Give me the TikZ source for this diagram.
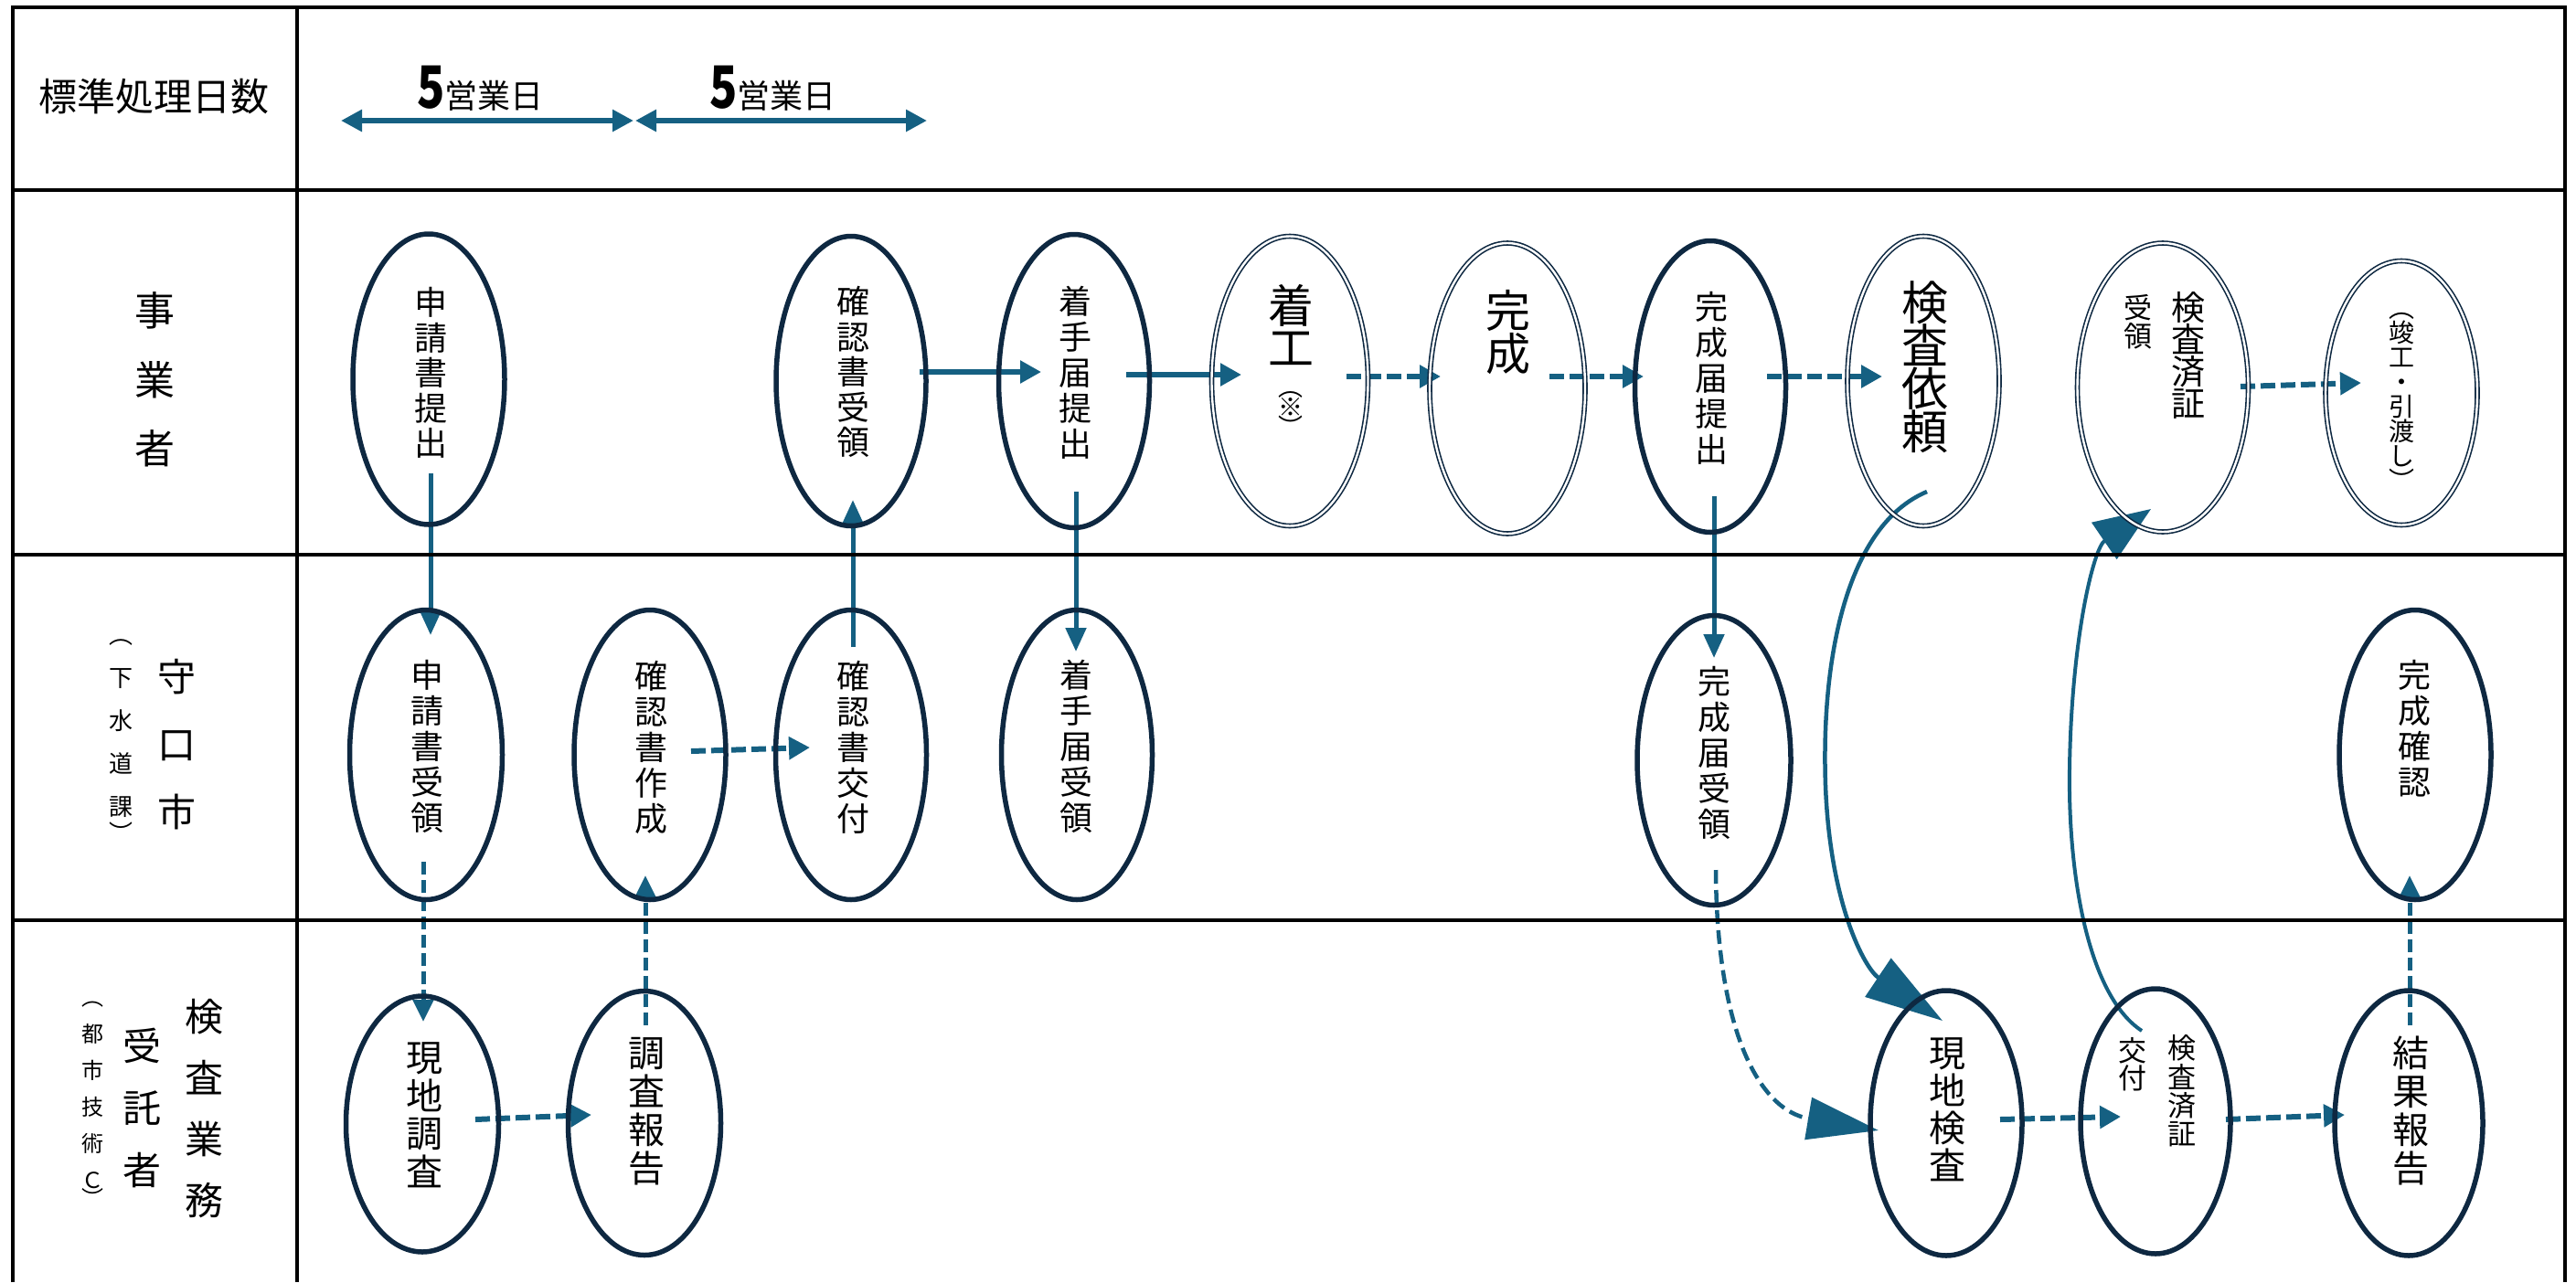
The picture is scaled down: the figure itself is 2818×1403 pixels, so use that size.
\documentclass[tikz,border=0pt]{standalone}
\usepackage{fontspec}
\setmainfont{Noto Sans CJK JP}
\usetikzlibrary{arrows.meta,shapes.geometric,calc}
\definecolor{navy}{HTML}{0E2841}
\definecolor{arrc}{HTML}{156082}
\newcommand\cjs{\vrule height .88em depth .12em width 0pt}
\newcommand\nolsl{\lineskiplimit -100pt\relax}
\pgfdeclarelayer{bg}
\pgfsetlayers{bg,main}
\tikzset{
  ell/.style={ellipse, draw=navy, line width=5.5pt, inner sep=0pt, outer sep=0pt},
  ellb/.style={ellipse, draw=navy, line width=1.6pt, double=white, double distance=2.4pt, inner sep=0pt, outer sep=0pt},
  vt/.style 2 args={align=center, inner sep=0pt, outer sep=0pt, font={\fontsize{#1}{#2}\selectfont\nolsl}},
  frame/.style={line width=4.5pt, black},
  hs/.style={draw=arrc, line width=5.5pt, -{Triangle[length=23pt,width=24pt]}},
  hd/.style={draw=arrc, line width=6pt, dash pattern=on 16pt off 6pt, -{Triangle[length=23pt,width=24pt]}},
  vs/.style={draw=arrc, line width=5pt, -{Triangle[length=26pt,width=22pt]}},
  vd/.style={draw=arrc, line width=5pt, dash pattern=on 14pt off 6pt, -{Triangle[length=24pt,width=22pt]}},
  dbl/.style={draw=arrc, line width=6pt, {Triangle[length=23pt,width=23pt]}-{Triangle[length=23pt,width=23pt]}},
  daylab/.style={anchor=base west, inner sep=0pt},
}
\newcommand\fiveday{\scalebox{0.78}[1]{\fontsize{64}{66}\selectfont\bfseries 5}{\fontsize{36}{40}\selectfont 営業日}}
\begin{document}
\begin{tikzpicture}[x=1pt,y=-1pt]
\useasboundingbox (0,0) rectangle (2818,1403);
% frame
\draw[frame] (14,1403) -- (14,8) -- (2806,8) -- (2806,1403);
\draw[frame] (14,208) -- (2806,208);
\draw[frame] (14,607) -- (2806,607);
\draw[frame] (14,1007) -- (2806,1007);
\draw[line width=3.5pt] (325,8) -- (325,1403);

% lane headers
\node[vt={42}{48}] (h0) at (168,106) {\cjs{}標準処理日数\cjs};
\node[vt={44}{75.5}] (h1) at (169,415.5) {\cjs{}事\\業\\者\cjs};
\node[vt={42}{74}] (h2) at (193,815) {\cjs{}守\\口\\市\cjs};
\node[vt={26}{47}] (h3) at (132,803) {\cjs{}︵\\下\\水\\道\\課\\[-18pt]︶\cjs};
\node[vt={42}{67.3}] (h4) at (223,1213) {\cjs{}検\\査\\業\\務\cjs};
\node[vt={42}{68}] (h5) at (155,1213) {\cjs{}受\\託\\者\cjs};
\node[vt={24}{40}] (h6) at (101,1201) {\cjs{}︵\\都\\市\\技\\術\\Ｃ\\[-20pt]︶\cjs};

% top labels
\node[daylab] (l1) at (456,118) {\fiveday};
\node[daylab] (l2) at (776,118) {\fiveday};
\coordinate (d0) at (373,132);
\coordinate (d1) at (693,132);
\coordinate (d2) at (695,132);
\coordinate (d3) at (1014,132);
\draw[dbl] (d0) -- (d1);
\draw[dbl] (d2) -- (d3);

% ellipses row 1
\node[ell, minimum width=166pt, minimum height=318pt] (a1) at (469,415) {};
\node[ell, minimum width=164pt, minimum height=317pt] (a2) at (931,417) {};
\node[ell, minimum width=165pt, minimum height=321pt] (a3) at (1175,417) {};
\node[ellb, minimum width=171pt, minimum height=317pt] (a4) at (1411,417) {};
\node[ellb, minimum width=170pt, minimum height=318pt] (a5) at (1649,425) {};
\node[ell, minimum width=165pt, minimum height=319pt] (a6) at (1871,423) {};
\node[ellb, minimum width=166pt, minimum height=317pt] (a7) at (2104,417) {};
\node[ellb, minimum width=187pt, minimum height=316pt] (a8) at (2366,424) {};
\node[ellb, minimum width=166pt, minimum height=289pt] (a9) at (2627,430) {};
% row 2
\node[ell, minimum width=167pt, minimum height=317pt] (b1) at (466,826) {};
\node[ell, minimum width=166pt, minimum height=317pt] (b2) at (711,826) {};
\node[ell, minimum width=165pt, minimum height=317pt] (b3) at (931,826) {};
\node[ell, minimum width=165pt, minimum height=317pt] (b4) at (1178,826) {};
\node[ell, minimum width=168pt, minimum height=317pt] (b5) at (1875,832) {};
\node[ell, minimum width=166pt, minimum height=317pt] (b6) at (2642,826) {};
% row 3
\node[ell, minimum width=167pt, minimum height=280pt] (c1) at (462,1230) {};
\node[ell, minimum width=167pt, minimum height=289pt] (c2) at (705,1229) {};
\node[ell, minimum width=166pt, minimum height=290pt] (c3) at (2129,1229) {};
\node[ell, minimum width=164pt, minimum height=290pt] (c4) at (2358,1227) {};
\node[ell, minimum width=162pt, minimum height=290pt] (c5) at (2635,1229) {};

% texts row 1
\node[vt={36}{38.5}] (ta1) at (471,408) {\cjs{}申\\請\\書\\提\\出\cjs};
\node[vt={36}{38.5}] (ta2) at (933,407) {\cjs{}確\\認\\書\\受\\領\cjs};
\node[vt={36}{39}] (ta3) at (1176,408) {\cjs{}着\\手\\届\\提\\出\cjs};
\node[vt={50}{46}] (ta4) at (1412,357) {\cjs{}着\\工\cjs};
\node[vt={27}{22}] (ta4n) at (1412,445) {\cjs{}︵\\※\\︶\cjs};
\node[vt={49}{47}] (ta5) at (1650,363) {\cjs{}完\\成\cjs};
\node[vt={36}{39}] (ta6) at (1872,414) {\cjs{}完\\成\\届\\提\\出\cjs};
\node[vt={51}{47}] (ta7) at (2106,402) {\cjs{}検\\査\\依\\頼\cjs};
\node[vt={37}{35}] (ta8r) at (2394,389) {\cjs{}検\\査\\済\\証\cjs};
\node[vt={31}{31}] (ta8l) at (2339,352) {\cjs{}受\\領\cjs};
\node[vt={28}{27}] (ta9) at (2627,431) {\cjs{}︵\\竣\\工\\・\\引\\渡\\し\\︶\cjs};
% texts row 2
\node[vt={36}{39}] (tb1) at (467,817) {\cjs{}申\\請\\書\\受\\領\cjs};
\node[vt={36}{39}] (tb2) at (712,818) {\cjs{}確\\認\\書\\作\\成\cjs};
\node[vt={36}{39}] (tb3) at (933,818) {\cjs{}確\\認\\書\\交\\付\cjs};
\node[vt={36}{39}] (tb4) at (1177,817) {\cjs{}着\\手\\届\\受\\領\cjs};
\node[vt={36}{39}] (tb5) at (1875,824) {\cjs{}完\\成\\届\\受\\領\cjs};
\node[vt={36}{39}] (tb6) at (2641,797) {\cjs{}完\\成\\確\\認\cjs};
% texts row 3
\node[vt={40}{41.5}] (tc1) at (464,1220) {\cjs{}現\\地\\調\\査\cjs};
\node[vt={40}{42}] (tc2) at (707,1215) {\cjs{}調\\査\\報\\告\cjs};
\node[vt={40}{41}] (tc3) at (2130,1214) {\cjs{}現\\地\\検\\査\cjs};
\node[vt={31}{31.3}] (tc4r) at (2387,1194) {\cjs{}検\\査\\済\\証\cjs};
\node[vt={31}{30}] (tc4l) at (2333,1165) {\cjs{}交\\付\cjs};
\node[vt={40}{42}] (tc5) at (2637,1215) {\cjs{}結\\果\\報\\告\cjs};

\begin{pgfonlayer}{bg}
% horizontal
\draw[hs] ($(a2.center)+(75,-10)$) -- ($(a3.center)+(-36,-10)$);
\draw[hs] ($(a3.center)+(57,-7)$) -- ($(a4.center)+(-53,-7)$);
\draw[hd] ($(a4.center)+(62,-5)$) -- ($(a5.center)+(-73,-13)$);
\draw[hd] ($(a5.center)+(46,-13)$) -- ($(a6.center)+(-73,-11)$);
\draw[hd] ($(a6.center)+(62,-11)$) -- ($(a7.center)+(-45,-5)$);
\draw[hd] ($(a8.center)+(85,-1)$) -- ($(a9.center)+(-44,-11)$);
\draw[hd] ($(b2.center)+(45,-4)$) -- ($(b3.center)+(-45,-8)$);
\draw[hd] ($(c1.center)+(58,-5)$) -- ($(c2.center)+(-58,-9)$);
\draw[hd] ($(c3.center)+(59,-4)$) -- ($(c4.center)+(-38,-5)$);
\draw[hd] ($(c4.center)+(77,-2)$) -- ($(c5.center)+(-70,-9)$);
% vertical
\draw[vs] ($(a1.center)+(2,103)$) -- ($(b1.center)+(5,-131)$);
\draw[vs] ($(b3.center)+(2,-118)$) -- ($(a2.center)+(2,130)$);
\draw[vs] ($(a3.center)+(2,121)$) -- ($(b4.center)+(-1,-113)$);
\draw[vs] ($(a6.center)+(4,120)$) -- ($(b5.center)+(0,-112)$);
\draw[vd] ($(b1.center)+(-3,117)$) -- ($(c1.center)+(1,-112)$);
\draw[vd] ($(c2.center)+(1,-107)$) -- ($(b2.center)+(-5,132)$);
\draw[vd] ($(c5.center)+(1,-107)$) -- ($(b6.center)+(-6,132)$);
% curves
\draw[draw=arrc, line width=4.5pt, -{Triangle[length=85pt,width=50pt]}]
  ($(a7.center)+(4,121)$) .. controls (2020,575) and (1992,720) .. (1997,860)
  .. controls (2002,990) and (2040,1060) .. ($(c3.center)+(-4,-112)$);
\draw[draw=arrc, line width=4pt, -{Triangle[length=62pt,width=48pt]}]
  ($(c4.center)+(-15,-99)$) .. controls (2285,1090) and (2262,960) .. (2264,840)
  .. controls (2266,700) and (2290,600) .. ($(a8.center)+(-13,133)$);
\draw[draw=arrc, line width=4.5pt, dash pattern=on 15pt off 7pt, -{Triangle[length=78pt,width=46pt]}]
  ($(b5.center)+(2,120)$) .. controls (1878,1130) and (1925,1215) .. ($(c3.center)+(-74,8)$);
\end{pgfonlayer}
\end{tikzpicture}
\end{document}
